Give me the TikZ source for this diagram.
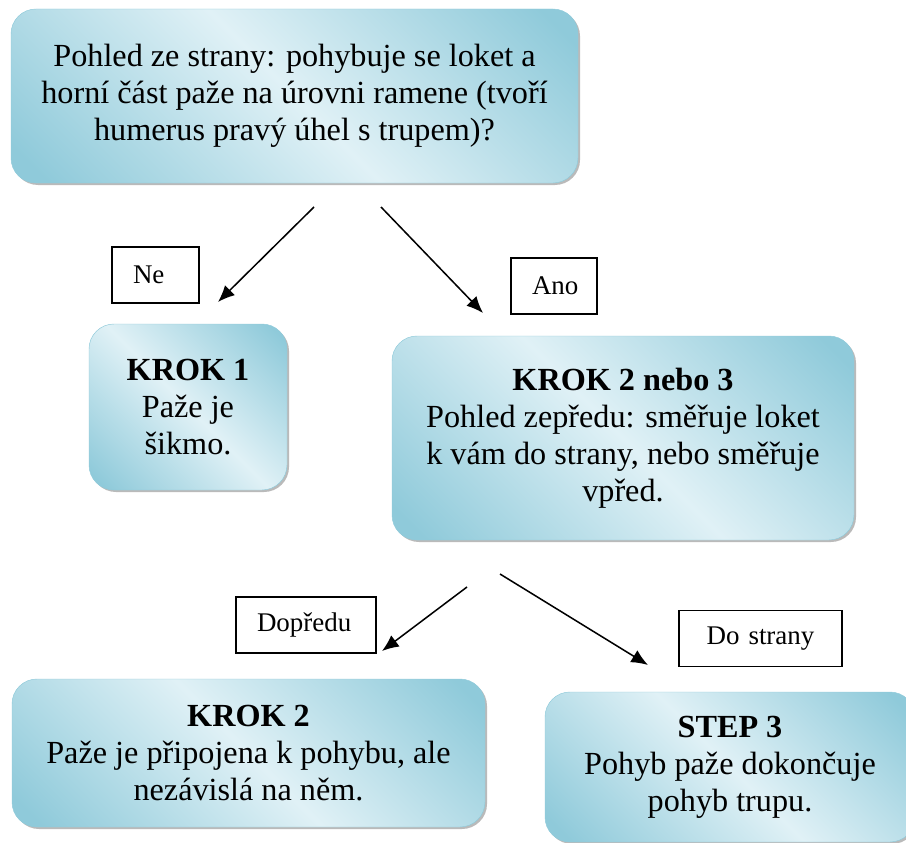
\documentclass[tikz,border=0pt]{standalone}
\usepackage{fontspec}
\setmainfont{Liberation Serif}
\usepackage{xcolor}
\usepackage{tikz}
\usetikzlibrary{positioning, arrows.meta, shadows}

\definecolor{aquadark}{RGB}{143,202,218}
\definecolor{aqualight}{RGB}{224,241,246}
\pgfdeclareverticalshading{aquashade}{100bp}{color(0bp)=(aquadark); color(18bp)=(aquadark);
  color(50bp)=(aqualight); color(82bp)=(aquadark); color(100bp)=(aquadark)}

\newcommand{\boxfont}{\fontsize{27.5}{31.5}\selectfont}
\newcommand{\lblfont}{\fontsize{23}{26}\selectfont}

\begin{document}
\begin{tikzpicture}[
  font=\boxfont,
  stepbox/.style={draw=aquadark, rounded corners=0.75cm, shading=aquashade,
                  shading angle=-45, align=center,
                  drop shadow={shadow xshift=0.06cm, shadow yshift=-0.06cm,
                               fill=black!45, opacity=0.6}},
  lbl/.style={draw, line width=1.1pt, font=\lblfont, minimum height=1.68cm,
              inner xsep=0.63cm, text width=#1, align=left},
  arr/.style={-{Latex[length=0.5cm, width=0.42cm]}, line width=1.3pt}
]
\useasboundingbox (0,0) rectangle (27.18,-25.29);
\clip (0,0) rectangle (27.18,-25.29);

% boxes
\node[stepbox, minimum width=17.01cm, minimum height=5.22cm] (side) at (8.835,-2.88)
  {Pohled ze strany: pohybuje se loket a\\horní část paže na úrovni ramene (tvoří\\humerus pravý úhel s trupem)?};
\node[stepbox, minimum width=5.94cm, minimum height=4.98cm] (krok1) at (5.64,-12.21)
  {\textbf{KROK 1}\\Paže je\\šikmo.};
\node[stepbox, minimum width=13.86cm, minimum height=6.12cm] (front) at (18.69,-13.14)
  {\textbf{KROK 2 nebo 3}\\Pohled zepředu: směřuje loket\\k vám do strany, nebo směřuje\\vpřed.};
\node[stepbox, minimum width=14.19cm, minimum height=4.44cm] (krok2) at (7.455,-22.59)
  {\textbf{KROK 2}\\Paže je připojena k pohybu, ale\\nezávislá na něm.};
\node[stepbox, minimum width=11.1cm, minimum height=4.5cm] (step3) at (21.9,-23.01)
  {\textbf{STEP 3}\\Pohyb paže dokončuje\\pohyb trupu.};

% labels
\node[lbl=1.35cm] (ne) at (4.665,-8.25) {Ne};
\node[lbl=1.32cm] (ano) at (16.62,-8.58) {Ano};
\node[lbl=2.94cm] (dopredu) at (9.18,-18.75) {Dopředu};
\node[lbl=3.63cm, align=center] (dostrany) at (22.815,-19.155) {Do strany};

% arrow ends
\coordinate (ne-from) at (9.42,-6.21);
\coordinate (ne-to) at (6.54,-9.06);
\coordinate (ano-from) at (11.43,-6.21);
\coordinate (ano-to) at (14.49,-9.39);
\coordinate (fwd-from) at (14.01,-17.61);
\coordinate (fwd-to) at (11.46,-19.53);
\coordinate (out-from) at (15.0,-17.22);
\coordinate (out-to) at (19.44,-19.95);

\draw[arr] (ne-from) -- (ne-to);
\draw[arr] (ano-from) -- (ano-to);
\draw[arr] (fwd-from) -- (fwd-to);
\draw[arr] (out-from) -- (out-to);
\end{tikzpicture}
\end{document}
